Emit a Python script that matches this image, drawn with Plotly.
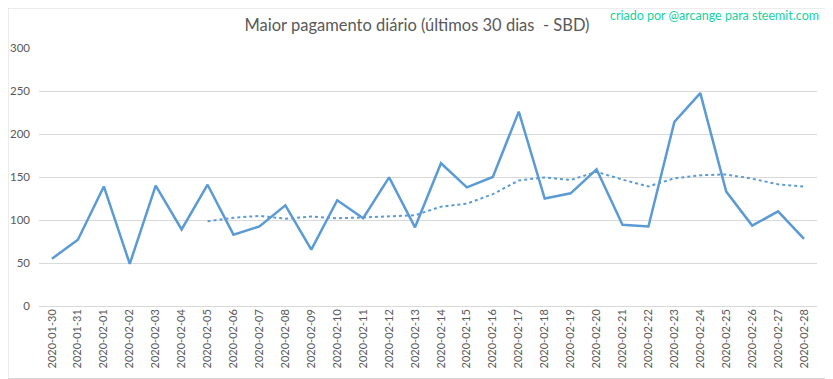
import plotly.graph_objects as go

dates = ["2020-01-30", "2020-01-31", "2020-02-01", "2020-02-02", "2020-02-03", "2020-02-04",
         "2020-02-05", "2020-02-06", "2020-02-07", "2020-02-08", "2020-02-09", "2020-02-10",
         "2020-02-11", "2020-02-12", "2020-02-13", "2020-02-14", "2020-02-15", "2020-02-16",
         "2020-02-17", "2020-02-18", "2020-02-19", "2020-02-20", "2020-02-21", "2020-02-22",
         "2020-02-23", "2020-02-24", "2020-02-25", "2020-02-26", "2020-02-27", "2020-02-28"]

max_payout = [55, 77, 139, 49, 140, 89, 141, 83, 92.5, 117, 65.5, 123, 102, 149.5, 91.5,
              166, 138, 150, 226, 125, 131, 159, 94.5, 92.5, 214, 247.5, 133, 93.5, 110, 78]

trend_dates = dates[6:]
trend_values = [98.5, 102.6, 104.8, 101.5, 104, 102, 103, 104, 105.5, 115.5, 119, 130,
                146, 149.5, 146.5, 156, 147, 139, 148.5, 152, 153, 148, 141.5, 139]

title_text = "Maior pagamento diário (últimos 30 dias  - SBD)"
credit_text = "criado por @arcange para steemit.com"
y_ticks = [0, 50, 100, 150, 200, 250, 300]

blue = "#5B9BD5"
grey_text = "#595959"
font_family = "Lato"

# The page body adds an 8px offset, so the figure is 8px smaller than the window.
OFF = 8
W, H = 833 - OFF, 379 - OFF
L, R, T, B = 31, 16, 40, 73
PW, PH = W - L - R, H - T - B

fig = go.Figure()
fig.add_trace(go.Scatter(x=dates, y=max_payout, mode="lines",
                         line=dict(color=blue, width=2.5), showlegend=False))
fig.add_trace(go.Scatter(x=trend_dates, y=trend_values, mode="lines",
                         line=dict(color=blue, width=2, dash="dot"), showlegend=False))

fig.update_layout(
    width=W, height=H,
    margin=dict(l=L, r=R, t=T, b=B),
    paper_bgcolor="white", plot_bgcolor="white",
    font=dict(family=font_family, color=grey_text),
    title=dict(text=title_text, x=(417 - OFF) / W, xanchor="center",
               y=1 - (25 - OFF) / H, yanchor="middle",
               font=dict(family=font_family, size=16.5, color=grey_text)),
    xaxis=dict(type="category", categoryorder="array", categoryarray=dates,
               range=[-0.5, len(dates) - 0.5], tickangle=-90, showgrid=False,
               showline=False, ticks="", automargin=False,
               tickfont=dict(family=font_family, size=11, color=grey_text)),
    yaxis=dict(range=[0, 300], tickvals=y_ticks, showgrid=True, gridcolor="#D9D9D9",
               gridwidth=1, zeroline=True, zerolinecolor="#D9D9D9", zerolinewidth=1,
               showline=False, ticks="", ticklabelstandoff=8, automargin=False,
               tickfont=dict(family=font_family, size=11.5, color=grey_text)),
    annotations=[dict(text=credit_text, xref="paper", yref="paper",
                      x=(821 - OFF - L) / PW, y=(H - B - (15 - OFF)) / PH,
                      xanchor="right", yanchor="middle",
                      showarrow=False, font=dict(family=font_family, size=12.5, color="#17D2A0"))],
    shapes=[dict(type="rect", xref="paper", yref="paper",
                 x0=-L / PW, x1=(W - 0.5 - L) / PW, y0=-(B - 0.5) / PH, y1=(PH + T) / PH,
                 line=dict(color="#D9D9D9", width=1), fillcolor="rgba(0,0,0,0)", layer="below")],
)

fig.write_html("out.html")
